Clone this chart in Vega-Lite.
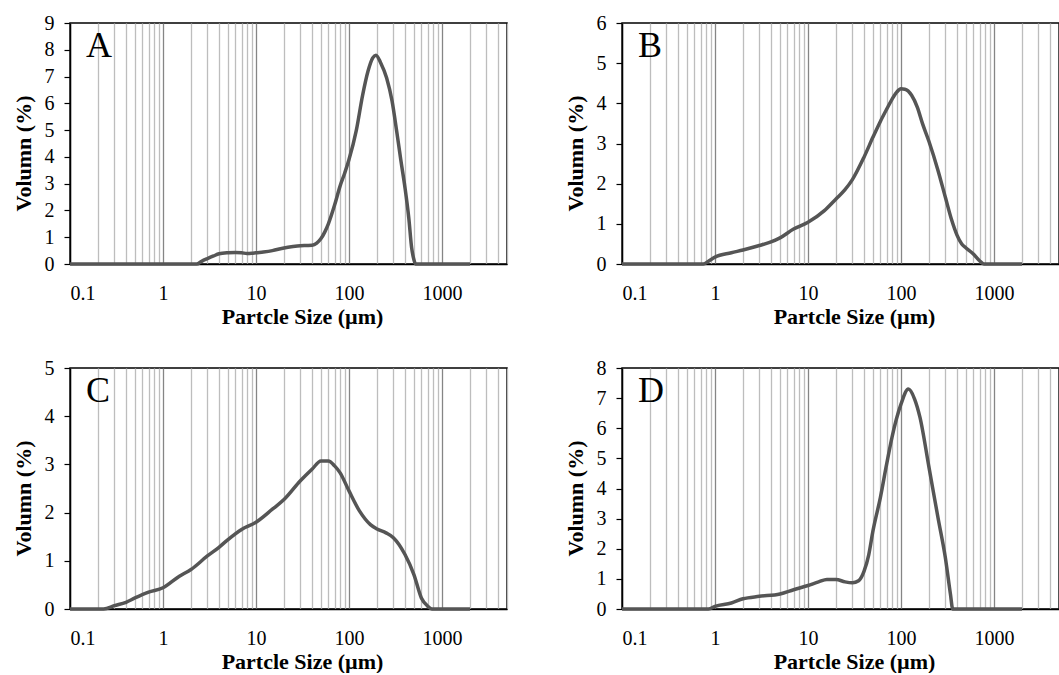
{
  "$schema": "https://vega.github.io/schema/vega-lite/v6.json",
  "background": "white",
  "padding": {"left": 11, "top": 12, "right": 0, "bottom": 0},
  "columns": 2,
  "spacing": {"row": 104, "column": 115},
  "bounds": "flush",
  "datasets": {
    "psd": [
      {"panel": "A", "size": 0.1, "vol": 0}, {"panel": "A", "size": 0.2, "vol": 0}, {"panel": "A", "size": 0.5, "vol": 0}, {"panel": "A", "size": 1, "vol": 0}, {"panel": "A", "size": 2, "vol": 0}, {"panel": "A", "size": 2.3, "vol": 0}, {"panel": "A", "size": 2.6, "vol": 0.1}, {"panel": "A", "size": 3, "vol": 0.2}, {"panel": "A", "size": 3.5, "vol": 0.3}, {"panel": "A", "size": 4, "vol": 0.38}, {"panel": "A", "size": 5, "vol": 0.42}, {"panel": "A", "size": 6, "vol": 0.43}, {"panel": "A", "size": 7, "vol": 0.42}, {"panel": "A", "size": 8, "vol": 0.39}, {"panel": "A", "size": 9, "vol": 0.4}, {"panel": "A", "size": 10, "vol": 0.42}, {"panel": "A", "size": 12, "vol": 0.45}, {"panel": "A", "size": 15, "vol": 0.5}, {"panel": "A", "size": 20, "vol": 0.6}, {"panel": "A", "size": 25, "vol": 0.65}, {"panel": "A", "size": 30, "vol": 0.68}, {"panel": "A", "size": 35, "vol": 0.69}, {"panel": "A", "size": 40, "vol": 0.7}, {"panel": "A", "size": 45, "vol": 0.78}, {"panel": "A", "size": 50, "vol": 0.95}, {"panel": "A", "size": 55, "vol": 1.2}, {"panel": "A", "size": 60, "vol": 1.5}, {"panel": "A", "size": 70, "vol": 2.2}, {"panel": "A", "size": 80, "vol": 2.9}, {"panel": "A", "size": 90, "vol": 3.4}, {"panel": "A", "size": 100, "vol": 3.9}, {"panel": "A", "size": 120, "vol": 5.0}, {"panel": "A", "size": 140, "vol": 6.3}, {"panel": "A", "size": 160, "vol": 7.2}, {"panel": "A", "size": 180, "vol": 7.7}, {"panel": "A", "size": 195, "vol": 7.8}, {"panel": "A", "size": 220, "vol": 7.5}, {"panel": "A", "size": 254, "vol": 6.95}, {"panel": "A", "size": 290, "vol": 6.1}, {"panel": "A", "size": 326, "vol": 4.95}, {"panel": "A", "size": 360, "vol": 3.9}, {"panel": "A", "size": 400, "vol": 2.85}, {"panel": "A", "size": 440, "vol": 1.7}, {"panel": "A", "size": 472, "vol": 0.6}, {"panel": "A", "size": 500, "vol": 0.15}, {"panel": "A", "size": 520, "vol": 0}, {"panel": "A", "size": 600, "vol": 0}, {"panel": "A", "size": 1000, "vol": 0}, {"panel": "A", "size": 2000, "vol": 0},
      {"panel": "B", "size": 0.1, "vol": 0}, {"panel": "B", "size": 0.5, "vol": 0}, {"panel": "B", "size": 0.75, "vol": 0}, {"panel": "B", "size": 0.85, "vol": 0.07}, {"panel": "B", "size": 1, "vol": 0.17}, {"panel": "B", "size": 1.5, "vol": 0.28}, {"panel": "B", "size": 2, "vol": 0.35}, {"panel": "B", "size": 3, "vol": 0.46}, {"panel": "B", "size": 4, "vol": 0.55}, {"panel": "B", "size": 5, "vol": 0.65}, {"panel": "B", "size": 7, "vol": 0.87}, {"panel": "B", "size": 10, "vol": 1.04}, {"panel": "B", "size": 15, "vol": 1.33}, {"panel": "B", "size": 20, "vol": 1.62}, {"panel": "B", "size": 25, "vol": 1.85}, {"panel": "B", "size": 30, "vol": 2.1}, {"panel": "B", "size": 40, "vol": 2.66}, {"panel": "B", "size": 50, "vol": 3.16}, {"panel": "B", "size": 60, "vol": 3.55}, {"panel": "B", "size": 70, "vol": 3.85}, {"panel": "B", "size": 80, "vol": 4.1}, {"panel": "B", "size": 90, "vol": 4.28}, {"panel": "B", "size": 100, "vol": 4.36}, {"panel": "B", "size": 110, "vol": 4.35}, {"panel": "B", "size": 130, "vol": 4.2}, {"panel": "B", "size": 150, "vol": 3.9}, {"panel": "B", "size": 170, "vol": 3.5}, {"panel": "B", "size": 200, "vol": 3.05}, {"panel": "B", "size": 250, "vol": 2.33}, {"panel": "B", "size": 300, "vol": 1.66}, {"panel": "B", "size": 350, "vol": 1.1}, {"panel": "B", "size": 400, "vol": 0.72}, {"panel": "B", "size": 450, "vol": 0.5}, {"panel": "B", "size": 500, "vol": 0.4}, {"panel": "B", "size": 600, "vol": 0.25}, {"panel": "B", "size": 700, "vol": 0.08}, {"panel": "B", "size": 780, "vol": 0}, {"panel": "B", "size": 1000, "vol": 0}, {"panel": "B", "size": 2000, "vol": 0},
      {"panel": "C", "size": 0.1, "vol": 0}, {"panel": "C", "size": 0.2, "vol": 0}, {"panel": "C", "size": 0.23, "vol": 0}, {"panel": "C", "size": 0.3, "vol": 0.07}, {"panel": "C", "size": 0.4, "vol": 0.14}, {"panel": "C", "size": 0.5, "vol": 0.23}, {"panel": "C", "size": 0.7, "vol": 0.35}, {"panel": "C", "size": 1, "vol": 0.44}, {"panel": "C", "size": 1.5, "vol": 0.68}, {"panel": "C", "size": 2, "vol": 0.82}, {"panel": "C", "size": 3, "vol": 1.1}, {"panel": "C", "size": 4, "vol": 1.28}, {"panel": "C", "size": 5, "vol": 1.44}, {"panel": "C", "size": 7, "vol": 1.65}, {"panel": "C", "size": 10, "vol": 1.8}, {"panel": "C", "size": 15, "vol": 2.07}, {"panel": "C", "size": 20, "vol": 2.27}, {"panel": "C", "size": 30, "vol": 2.66}, {"panel": "C", "size": 40, "vol": 2.9}, {"panel": "C", "size": 50, "vol": 3.07}, {"panel": "C", "size": 60, "vol": 3.07}, {"panel": "C", "size": 70, "vol": 2.97}, {"panel": "C", "size": 80, "vol": 2.83}, {"panel": "C", "size": 100, "vol": 2.45}, {"panel": "C", "size": 130, "vol": 2.03}, {"panel": "C", "size": 170, "vol": 1.75}, {"panel": "C", "size": 200, "vol": 1.66}, {"panel": "C", "size": 250, "vol": 1.58}, {"panel": "C", "size": 300, "vol": 1.48}, {"panel": "C", "size": 400, "vol": 1.13}, {"panel": "C", "size": 500, "vol": 0.71}, {"panel": "C", "size": 600, "vol": 0.23}, {"panel": "C", "size": 700, "vol": 0.06}, {"panel": "C", "size": 780, "vol": 0}, {"panel": "C", "size": 1000, "vol": 0}, {"panel": "C", "size": 2000, "vol": 0},
      {"panel": "D", "size": 0.1, "vol": 0}, {"panel": "D", "size": 0.5, "vol": 0}, {"panel": "D", "size": 0.85, "vol": 0}, {"panel": "D", "size": 1, "vol": 0.09}, {"panel": "D", "size": 1.5, "vol": 0.2}, {"panel": "D", "size": 2, "vol": 0.34}, {"panel": "D", "size": 3, "vol": 0.42}, {"panel": "D", "size": 5, "vol": 0.5}, {"panel": "D", "size": 7, "vol": 0.64}, {"panel": "D", "size": 10, "vol": 0.78}, {"panel": "D", "size": 13, "vol": 0.9}, {"panel": "D", "size": 16, "vol": 0.98}, {"panel": "D", "size": 20, "vol": 0.98}, {"panel": "D", "size": 25, "vol": 0.9}, {"panel": "D", "size": 30, "vol": 0.87}, {"panel": "D", "size": 35, "vol": 0.94}, {"panel": "D", "size": 40, "vol": 1.25}, {"panel": "D", "size": 45, "vol": 1.8}, {"panel": "D", "size": 50, "vol": 2.6}, {"panel": "D", "size": 60, "vol": 3.7}, {"panel": "D", "size": 70, "vol": 4.8}, {"panel": "D", "size": 80, "vol": 5.7}, {"panel": "D", "size": 100, "vol": 6.8}, {"panel": "D", "size": 120, "vol": 7.3}, {"panel": "D", "size": 140, "vol": 6.97}, {"panel": "D", "size": 160, "vol": 6.36}, {"panel": "D", "size": 200, "vol": 4.7}, {"panel": "D", "size": 250, "vol": 3.03}, {"panel": "D", "size": 300, "vol": 1.7}, {"panel": "D", "size": 340, "vol": 0.5}, {"panel": "D", "size": 360, "vol": 0}, {"panel": "D", "size": 500, "vol": 0}, {"panel": "D", "size": 1000, "vol": 0}, {"panel": "D", "size": 2000, "vol": 0}
    ]
  },
  "config": {
    "font": "Liberation Serif, Times New Roman, DejaVu Serif, serif",
    "view": {"stroke": "black", "strokeWidth": 1.5},
    "title": {"font": "Liberation Serif, Times New Roman, DejaVu Serif, serif", "fontSize": 36, "fontWeight": "normal", "color": "black", "anchor": "start", "frame": "group", "baseline": "top", "offset": -52, "dx": 16},
    "axis": {
      "labelFont": "Liberation Serif, Times New Roman, DejaVu Serif, serif", "labelFontSize": 20, "labelColor": "black",
      "titleFont": "Liberation Serif, Times New Roman, DejaVu Serif, serif", "titleFontSize": 22, "titleFontWeight": "bold", "titleColor": "black",
      "domainColor": "black", "domainWidth": 1.5, "tickColor": "black", "tickSize": 6, "tickWidth": 1.2
    },
    "axisY": {"grid": false, "labelPadding": 10, "titlePadding": 9, "titleY": 130},
    "axisX": {
      "grid": true, "gridWidth": 1.3, "labelOverlap": false, "labelPadding": 13, "titlePadding": 3, "titleX": 232,
      "values": [0.1, 0.2, 0.3, 0.4, 0.5, 0.6, 0.7, 0.8, 0.9, 1, 2, 3, 4, 5, 6, 7, 8, 9, 10, 20, 30, 40, 50, 60, 70, 80, 90, 100, 200, 300, 400, 500, 600, 700, 800, 900, 1000, 2000, 3000, 4000, 5000],
      "labelExpr": "indexof([0.1, 1, 10, 100, 1000], datum.value) >= 0 ? format(datum.value, '~g') : ''",
      "tickOpacity": {"condition": {"test": "indexof([0.1, 1, 10, 100, 1000], datum.value) >= 0", "value": 1}, "value": 0},
      "gridColor": {"condition": {"test": "indexof([1, 10, 100, 1000], datum.value) >= 0", "value": "#858585"}, "value": "#bdbdbd"}
    }
  },
  "concat": [
    {
      "width": 437, "height": 241,
      "title": "A",
      "data": {"name": "psd"},
      "transform": [{"filter": "datum.panel === 'A'"}],
      "mark": {"type": "line", "interpolate": "monotone", "color": "#555555", "strokeWidth": 3.5},
      "encoding": {
        "x": {"field": "size", "type": "quantitative", "scale": {"type": "log", "domain": [0.1, 5000], "nice": false}, "title": "Partcle Size (µm)"},
        "y": {"field": "vol", "type": "quantitative", "scale": {"domain": [0, 9], "nice": false}, "axis": {"values": [0, 1, 2, 3, 4, 5, 6, 7, 8, 9]}, "title": "Volumn (%)"}
      }
    },
    {
      "width": 437, "height": 241,
      "title": "B",
      "data": {"name": "psd"},
      "transform": [{"filter": "datum.panel === 'B'"}],
      "mark": {"type": "line", "interpolate": "monotone", "color": "#555555", "strokeWidth": 3.5},
      "encoding": {
        "x": {"field": "size", "type": "quantitative", "scale": {"type": "log", "domain": [0.1, 5000], "nice": false}, "title": "Partcle Size (µm)"},
        "y": {"field": "vol", "type": "quantitative", "scale": {"domain": [0, 6], "nice": false}, "axis": {"values": [0, 1, 2, 3, 4, 5, 6]}, "title": "Volumn (%)"}
      }
    },
    {
      "width": 437, "height": 241,
      "title": "C",
      "data": {"name": "psd"},
      "transform": [{"filter": "datum.panel === 'C'"}],
      "mark": {"type": "line", "interpolate": "monotone", "color": "#555555", "strokeWidth": 3.5},
      "encoding": {
        "x": {"field": "size", "type": "quantitative", "scale": {"type": "log", "domain": [0.1, 5000], "nice": false}, "title": "Partcle Size (µm)"},
        "y": {"field": "vol", "type": "quantitative", "scale": {"domain": [0, 5], "nice": false}, "axis": {"values": [0, 1, 2, 3, 4, 5]}, "title": "Volumn (%)"}
      }
    },
    {
      "width": 437, "height": 241,
      "title": "D",
      "data": {"name": "psd"},
      "transform": [{"filter": "datum.panel === 'D'"}],
      "mark": {"type": "line", "interpolate": "monotone", "color": "#555555", "strokeWidth": 3.5},
      "encoding": {
        "x": {"field": "size", "type": "quantitative", "scale": {"type": "log", "domain": [0.1, 5000], "nice": false}, "title": "Partcle Size (µm)"},
        "y": {"field": "vol", "type": "quantitative", "scale": {"domain": [0, 8], "nice": false}, "axis": {"values": [0, 1, 2, 3, 4, 5, 6, 7, 8]}, "title": "Volumn (%)"}
      }
    }
  ]
}
